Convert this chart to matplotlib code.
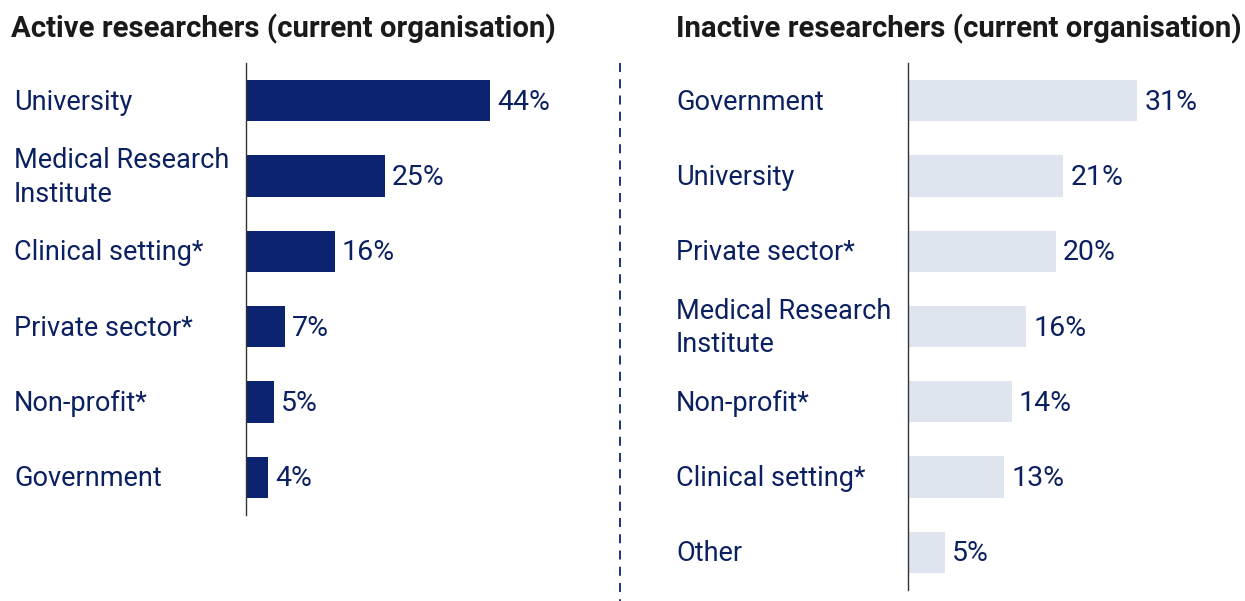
import matplotlib
matplotlib.use("Agg")
import matplotlib.pyplot as plt
from matplotlib.transforms import blended_transform_factory
from matplotlib.lines import Line2D

plt.rcParams['font.family'] = ['Roboto', 'DejaVu Sans']

active_title = "Active researchers (current organisation)"
active_cats = ["University", "Medical Research\nInstitute", "Clinical setting*",
               "Private sector*", "Non-profit*", "Government"]
active_vals = [44, 25, 16, 7, 5, 4]

inactive_title = "Inactive researchers (current organisation)"
inactive_cats = ["Government", "University", "Private sector*",
                 "Medical Research\nInstitute", "Non-profit*", "Clinical setting*", "Other"]
inactive_vals = [31, 21, 20, 16, 14, 13, 5]

NAVY = "#0c2470"
LIGHT = "#dfe5ef"
TEXT = "#0b2060"

W, H = 1245, 601
fig = plt.figure(figsize=(W / 100, H / 100), dpi=100)


def panel(ax_left_px, ax_top_px, ax_bottom_px, px_per_unit, cats, vals, color,
          label_x_px, title, title_x_px):
    n = len(cats)
    width_px = 300
    ax = fig.add_axes([ax_left_px / W, 1 - ax_bottom_px / H, width_px / W,
                       (ax_bottom_px - ax_top_px) / H])
    ax.set_xlim(0, width_px / px_per_unit)
    ax.set_ylim(n - 0.5, -0.5)
    ys = list(range(n))
    ax.barh(ys, vals, height=0.55, color=color)
    for s in ["top", "right", "bottom"]:
        ax.spines[s].set_visible(False)
    ax.spines["left"].set_color("#333333")
    ax.spines["left"].set_linewidth(1.0)
    ax.set_xticks([])
    ax.set_yticks([])
    tr = blended_transform_factory(fig.transFigure, ax.transData)
    for y, c, v in zip(ys, cats, vals):
        ax.text(label_x_px / W, y + 0.02, c, transform=tr, ha="left", va="center",
                fontsize=19.5, color=TEXT, linespacing=1.3)
        ax.annotate(f"{v}%", xy=(v, y + 0.02), xytext=(5, 0), textcoords="offset points",
                    ha="left", va="center", fontsize=20.5, color=TEXT)
    fig.text(title_x_px / W, 1 - 29 / H, title, ha="left", va="center",
             fontsize=21.2, fontweight="bold", color="#1a1a1a")
    return ax


panel(246, 63, 515, 5.55, active_cats, active_vals, NAVY, 14, active_title, 11)
panel(908, 63, 590, 7.4, inactive_cats, inactive_vals, LIGHT, 676, inactive_title, 676)

fig.add_artist(Line2D([620 / W, 620 / W], [1 - 63 / H, 0], transform=fig.transFigure,
                      color=NAVY, linewidth=1.3, linestyle=(0, (5, 4))))

fig.savefig("out.png", dpi=100)
